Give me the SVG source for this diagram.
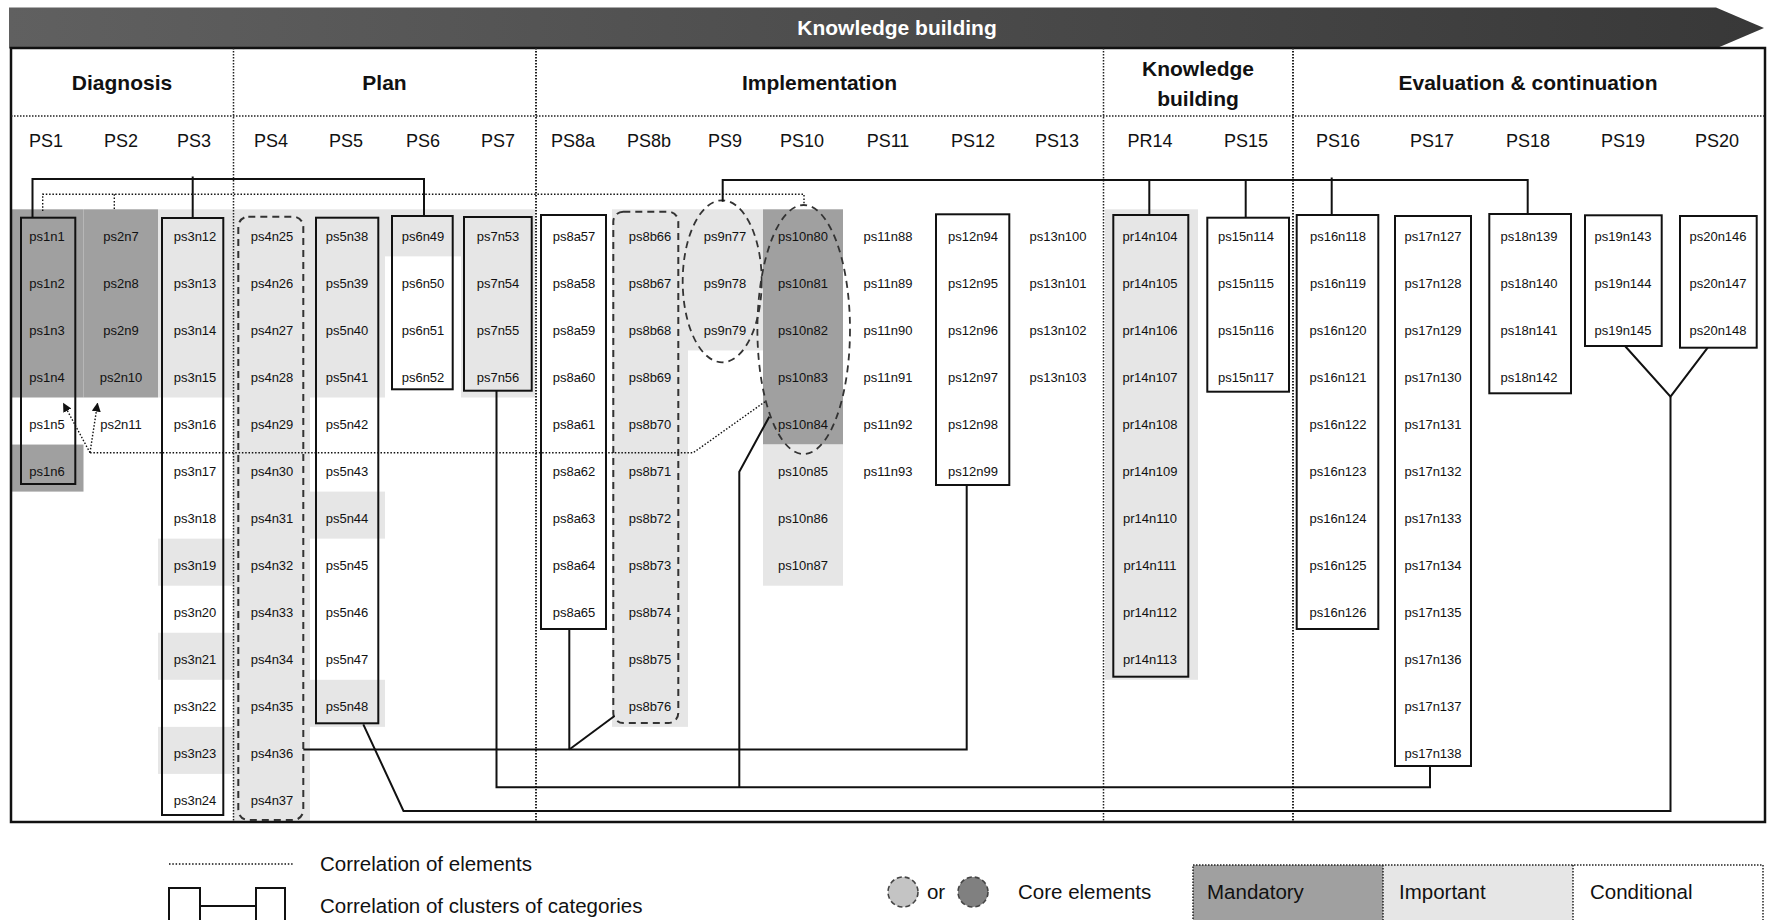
<svg xmlns="http://www.w3.org/2000/svg" width="1769" height="920" viewBox="0 0 1769 920">
  <defs>
    <linearGradient id="bannerGrad" x1="0" y1="0" x2="1" y2="0">
      <stop offset="0" stop-color="#606060"/>
      <stop offset="1" stop-color="#383838"/>
    </linearGradient>
    <marker id="arrowHead" viewBox="0 0 10 10" refX="9" refY="5" markerWidth="9" markerHeight="9" markerUnits="userSpaceOnUse" orient="auto">
      <path d="M0,0 L10,5 L0,10 z" fill="#111"/>
    </marker>
    <style>
      text { font-family: "Liberation Sans", Arial, sans-serif; fill: #111; }
      .el { font-size: 13px; text-anchor: middle; }
      .ph { font-size: 18px; text-anchor: middle; }
      .sec { font-size: 21px; font-weight: bold; text-anchor: middle; }
      .lg { font-size: 20.5px; }
      .m { fill: #a0a0a0; }
      .i { fill: #e6e6e6; }
      .box { fill: none; stroke: #111; stroke-width: 2; }
      .dbox { fill: none; stroke: #333; stroke-width: 2; stroke-dasharray: 7 5; }
      .sep { fill: none; stroke: #222; stroke-width: 1.5; stroke-dasharray: 1.5 1.5; }
      .dot { fill: none; stroke: #111; stroke-width: 1.4; stroke-dasharray: 1.5 1.8; }
      .con { fill: none; stroke: #111; stroke-width: 2; }
    </style>
  </defs>

  <!-- banner -->
  <g id="banner">
    <polygon points="9,7.5 1716,7.5 1764,28 1716,48.5 9,48.5" fill="url(#bannerGrad)"/>
    <text x="897" y="34.5" class="sec" style="fill:#fff">Knowledge building</text>
  </g>

  <!-- frame -->
  <rect x="11" y="48" width="1754" height="774" fill="#fff"/>

  <!-- cell backgrounds (mandatory / important) -->
  <g id="backgrounds">
    <rect class="m" x="11.5" y="209.3" width="72" height="188.2"/>
    <rect class="m" x="11.5" y="444.55" width="72" height="47.05"/>
    <rect class="m" x="83.5" y="209.3" width="74.5" height="188.2"/>
    <rect class="i" x="158" y="209.3" width="75" height="188.2"/>
    <rect class="i" x="158" y="538.65" width="75" height="47.05"/>
    <rect class="i" x="158" y="632.75" width="75" height="47.05"/>
    <rect class="i" x="158" y="726.85" width="75" height="47.05"/>
    <rect class="i" x="233" y="209.3" width="77" height="611.7"/>
    <rect class="i" x="310" y="209.3" width="75" height="188.2"/>
    <rect class="i" x="310" y="491.6" width="75" height="47.05"/>
    <rect class="i" x="310" y="679.8" width="75" height="47.05"/>
    <rect class="i" x="385" y="209.3" width="76" height="47.05"/>
    <rect class="i" x="461" y="209.3" width="74" height="188.2"/>
    <rect class="i" x="612" y="209.3" width="76" height="517.55"/>
    <rect class="i" x="688" y="209.3" width="75" height="141.15"/>
    <rect class="m" x="763" y="209.3" width="80" height="235.25"/>
    <rect class="i" x="763" y="444.55" width="80" height="141.15"/>
    <rect class="i" x="1105" y="209.3" width="93" height="470.5"/>
  </g>

  <!-- phase frame, header rule and section separators -->
  <g id="frame">
    <rect x="11" y="48" width="1754" height="774" class="box" style="stroke-width:2.5"/>
    <line x1="11" y1="116" x2="1765" y2="116" class="sep"/>
    <line x1="233.5" y1="48" x2="233.5" y2="822" class="sep"/>
    <line x1="536" y1="48" x2="536" y2="822" class="sep" style="stroke-width:2"/>
    <line x1="1103.5" y1="48" x2="1103.5" y2="822" class="sep"/>
    <line x1="1293" y1="48" x2="1293" y2="822" class="sep" style="stroke-width:2"/>
    <text x="122" y="90" class="sec">Diagnosis</text>
    <text x="384.5" y="90" class="sec">Plan</text>
    <text x="819.5" y="90" class="sec">Implementation</text>
    <text x="1198" y="76" class="sec">Knowledge</text>
    <text x="1198" y="106" class="sec">building</text>
    <text x="1528" y="90" class="sec">Evaluation &amp; continuation</text>
  </g>

  <!-- phase step headers -->
  <g id="step-headers" class="ph">
    <text x="46" y="147" class="ph">PS1</text>
    <text x="121" y="147" class="ph">PS2</text>
    <text x="194" y="147" class="ph">PS3</text>
    <text x="271" y="147" class="ph">PS4</text>
    <text x="346" y="147" class="ph">PS5</text>
    <text x="423" y="147" class="ph">PS6</text>
    <text x="498" y="147" class="ph">PS7</text>
    <text x="573" y="147" class="ph">PS8a</text>
    <text x="649" y="147" class="ph">PS8b</text>
    <text x="725" y="147" class="ph">PS9</text>
    <text x="802" y="147" class="ph">PS10</text>
    <text x="888" y="147" class="ph">PS11</text>
    <text x="973" y="147" class="ph">PS12</text>
    <text x="1057" y="147" class="ph">PS13</text>
    <text x="1150" y="147" class="ph">PR14</text>
    <text x="1246" y="147" class="ph">PS15</text>
    <text x="1338" y="147" class="ph">PS16</text>
    <text x="1432" y="147" class="ph">PS17</text>
    <text x="1528" y="147" class="ph">PS18</text>
    <text x="1623" y="147" class="ph">PS19</text>
    <text x="1717" y="147" class="ph">PS20</text>
  </g>

  <!-- element columns -->
  <g id="ps1">
    <rect class="box" x="21" y="217.7" width="54.3" height="266.3"/>
    <text class="el" x="47" y="240.5">ps1n1</text>
    <text class="el" x="47" y="287.6">ps1n2</text>
    <text class="el" x="47" y="334.6">ps1n3</text>
    <text class="el" x="47" y="381.7">ps1n4</text>
    <text class="el" x="47" y="428.7">ps1n5</text>
    <text class="el" x="47" y="475.8">ps1n6</text>
  </g>
  <g id="ps2">
    <text class="el" x="121" y="240.5">ps2n7</text>
    <text class="el" x="121" y="287.6">ps2n8</text>
    <text class="el" x="121" y="334.6">ps2n9</text>
    <text class="el" x="121" y="381.7">ps2n10</text>
    <text class="el" x="121" y="428.7">ps2n11</text>
  </g>
  <g id="ps3">
    <rect class="box" x="162" y="218" width="61.3" height="597"/>
    <text class="el" x="195" y="240.5">ps3n12</text>
    <text class="el" x="195" y="287.6">ps3n13</text>
    <text class="el" x="195" y="334.6">ps3n14</text>
    <text class="el" x="195" y="381.7">ps3n15</text>
    <text class="el" x="195" y="428.7">ps3n16</text>
    <text class="el" x="195" y="475.8">ps3n17</text>
    <text class="el" x="195" y="522.8">ps3n18</text>
    <text class="el" x="195" y="569.9">ps3n19</text>
    <text class="el" x="195" y="616.9">ps3n20</text>
    <text class="el" x="195" y="664">ps3n21</text>
    <text class="el" x="195" y="711">ps3n22</text>
    <text class="el" x="195" y="758.1">ps3n23</text>
    <text class="el" x="195" y="805.1">ps3n24</text>
  </g>
  <g id="ps4">
    <rect class="dbox" x="238.3" y="216.7" width="65" height="603.3" rx="10"/>
    <text class="el" x="272" y="240.5">ps4n25</text>
    <text class="el" x="272" y="287.6">ps4n26</text>
    <text class="el" x="272" y="334.6">ps4n27</text>
    <text class="el" x="272" y="381.7">ps4n28</text>
    <text class="el" x="272" y="428.7">ps4n29</text>
    <text class="el" x="272" y="475.8">ps4n30</text>
    <text class="el" x="272" y="522.8">ps4n31</text>
    <text class="el" x="272" y="569.9">ps4n32</text>
    <text class="el" x="272" y="616.9">ps4n33</text>
    <text class="el" x="272" y="664">ps4n34</text>
    <text class="el" x="272" y="711">ps4n35</text>
    <text class="el" x="272" y="758.1">ps4n36</text>
    <text class="el" x="272" y="805.1">ps4n37</text>
  </g>
  <g id="ps5">
    <rect class="box" x="316" y="217.7" width="62.3" height="505.6"/>
    <text class="el" x="347" y="240.5">ps5n38</text>
    <text class="el" x="347" y="287.6">ps5n39</text>
    <text class="el" x="347" y="334.6">ps5n40</text>
    <text class="el" x="347" y="381.7">ps5n41</text>
    <text class="el" x="347" y="428.7">ps5n42</text>
    <text class="el" x="347" y="475.8">ps5n43</text>
    <text class="el" x="347" y="522.8">ps5n44</text>
    <text class="el" x="347" y="569.9">ps5n45</text>
    <text class="el" x="347" y="616.9">ps5n46</text>
    <text class="el" x="347" y="664">ps5n47</text>
    <text class="el" x="347" y="711">ps5n48</text>
  </g>
  <g id="ps6">
    <rect class="box" x="392" y="216" width="60.7" height="173.3"/>
    <text class="el" x="423" y="240.5">ps6n49</text>
    <text class="el" x="423" y="287.6">ps6n50</text>
    <text class="el" x="423" y="334.6">ps6n51</text>
    <text class="el" x="423" y="381.7">ps6n52</text>
  </g>
  <g id="ps7">
    <rect class="box" x="464" y="217" width="67.7" height="173.7"/>
    <text class="el" x="498" y="240.5">ps7n53</text>
    <text class="el" x="498" y="287.6">ps7n54</text>
    <text class="el" x="498" y="334.6">ps7n55</text>
    <text class="el" x="498" y="381.7">ps7n56</text>
  </g>
  <g id="ps8a">
    <rect class="box" x="541" y="215" width="65" height="414"/>
    <text class="el" x="574" y="240.5">ps8a57</text>
    <text class="el" x="574" y="287.6">ps8a58</text>
    <text class="el" x="574" y="334.6">ps8a59</text>
    <text class="el" x="574" y="381.7">ps8a60</text>
    <text class="el" x="574" y="428.7">ps8a61</text>
    <text class="el" x="574" y="475.8">ps8a62</text>
    <text class="el" x="574" y="522.8">ps8a63</text>
    <text class="el" x="574" y="569.9">ps8a64</text>
    <text class="el" x="574" y="616.9">ps8a65</text>
  </g>
  <g id="ps8b">
    <rect class="dbox" x="613.3" y="211.7" width="65" height="511.3" rx="10"/>
    <text class="el" x="650" y="240.5">ps8b66</text>
    <text class="el" x="650" y="287.6">ps8b67</text>
    <text class="el" x="650" y="334.6">ps8b68</text>
    <text class="el" x="650" y="381.7">ps8b69</text>
    <text class="el" x="650" y="428.7">ps8b70</text>
    <text class="el" x="650" y="475.8">ps8b71</text>
    <text class="el" x="650" y="522.8">ps8b72</text>
    <text class="el" x="650" y="569.9">ps8b73</text>
    <text class="el" x="650" y="616.9">ps8b74</text>
    <text class="el" x="650" y="664">ps8b75</text>
    <text class="el" x="650" y="711">ps8b76</text>
  </g>
  <g id="ps9">
    <ellipse class="dbox" cx="722.2" cy="281.3" rx="39.5" ry="81" style="stroke-width:1.8"/>
    <text class="el" x="725" y="240.5">ps9n77</text>
    <text class="el" x="725" y="287.6">ps9n78</text>
    <text class="el" x="725" y="334.6">ps9n79</text>
  </g>
  <g id="ps10">
    <ellipse class="dbox" cx="803.7" cy="329.5" rx="46.3" ry="124.5" style="stroke-width:1.8"/>
    <text class="el" x="803" y="240.5">ps10n80</text>
    <text class="el" x="803" y="287.6">ps10n81</text>
    <text class="el" x="803" y="334.6">ps10n82</text>
    <text class="el" x="803" y="381.7">ps10n83</text>
    <text class="el" x="803" y="428.7">ps10n84</text>
    <text class="el" x="803" y="475.8">ps10n85</text>
    <text class="el" x="803" y="522.8">ps10n86</text>
    <text class="el" x="803" y="569.9">ps10n87</text>
  </g>
  <g id="ps11">
    <text class="el" x="888" y="240.5">ps11n88</text>
    <text class="el" x="888" y="287.6">ps11n89</text>
    <text class="el" x="888" y="334.6">ps11n90</text>
    <text class="el" x="888" y="381.7">ps11n91</text>
    <text class="el" x="888" y="428.7">ps11n92</text>
    <text class="el" x="888" y="475.8">ps11n93</text>
  </g>
  <g id="ps12">
    <rect class="box" x="936" y="214.3" width="73.3" height="270.7"/>
    <text class="el" x="973" y="240.5">ps12n94</text>
    <text class="el" x="973" y="287.6">ps12n95</text>
    <text class="el" x="973" y="334.6">ps12n96</text>
    <text class="el" x="973" y="381.7">ps12n97</text>
    <text class="el" x="973" y="428.7">ps12n98</text>
    <text class="el" x="973" y="475.8">ps12n99</text>
  </g>
  <g id="ps13">
    <text class="el" x="1058" y="240.5">ps13n100</text>
    <text class="el" x="1058" y="287.6">ps13n101</text>
    <text class="el" x="1058" y="334.6">ps13n102</text>
    <text class="el" x="1058" y="381.7">ps13n103</text>
  </g>
  <g id="pr14">
    <rect class="box" x="1113.3" y="215" width="75" height="461.7"/>
    <text class="el" x="1150" y="240.5">pr14n104</text>
    <text class="el" x="1150" y="287.6">pr14n105</text>
    <text class="el" x="1150" y="334.6">pr14n106</text>
    <text class="el" x="1150" y="381.7">pr14n107</text>
    <text class="el" x="1150" y="428.7">pr14n108</text>
    <text class="el" x="1150" y="475.8">pr14n109</text>
    <text class="el" x="1150" y="522.8">pr14n110</text>
    <text class="el" x="1150" y="569.9">pr14n111</text>
    <text class="el" x="1150" y="616.9">pr14n112</text>
    <text class="el" x="1150" y="664">pr14n113</text>
  </g>
  <g id="ps15">
    <rect class="box" x="1207.3" y="217.7" width="81.7" height="174"/>
    <text class="el" x="1246" y="240.5">ps15n114</text>
    <text class="el" x="1246" y="287.6">ps15n115</text>
    <text class="el" x="1246" y="334.6">ps15n116</text>
    <text class="el" x="1246" y="381.7">ps15n117</text>
  </g>
  <g id="ps16">
    <rect class="box" x="1296.7" y="215" width="81.6" height="414"/>
    <text class="el" x="1338" y="240.5">ps16n118</text>
    <text class="el" x="1338" y="287.6">ps16n119</text>
    <text class="el" x="1338" y="334.6">ps16n120</text>
    <text class="el" x="1338" y="381.7">ps16n121</text>
    <text class="el" x="1338" y="428.7">ps16n122</text>
    <text class="el" x="1338" y="475.8">ps16n123</text>
    <text class="el" x="1338" y="522.8">ps16n124</text>
    <text class="el" x="1338" y="569.9">ps16n125</text>
    <text class="el" x="1338" y="616.9">ps16n126</text>
  </g>
  <g id="ps17">
    <rect class="box" x="1395" y="216" width="76" height="550"/>
    <text class="el" x="1433" y="240.5">ps17n127</text>
    <text class="el" x="1433" y="287.6">ps17n128</text>
    <text class="el" x="1433" y="334.6">ps17n129</text>
    <text class="el" x="1433" y="381.7">ps17n130</text>
    <text class="el" x="1433" y="428.7">ps17n131</text>
    <text class="el" x="1433" y="475.8">ps17n132</text>
    <text class="el" x="1433" y="522.8">ps17n133</text>
    <text class="el" x="1433" y="569.9">ps17n134</text>
    <text class="el" x="1433" y="616.9">ps17n135</text>
    <text class="el" x="1433" y="664">ps17n136</text>
    <text class="el" x="1433" y="711">ps17n137</text>
    <text class="el" x="1433" y="758.1">ps17n138</text>
  </g>
  <g id="ps18">
    <rect class="box" x="1489.3" y="214" width="81.7" height="179.3"/>
    <text class="el" x="1529" y="240.5">ps18n139</text>
    <text class="el" x="1529" y="287.6">ps18n140</text>
    <text class="el" x="1529" y="334.6">ps18n141</text>
    <text class="el" x="1529" y="381.7">ps18n142</text>
  </g>
  <g id="ps19">
    <rect class="box" x="1585" y="215.3" width="76.7" height="130.7"/>
    <text class="el" x="1623" y="240.5">ps19n143</text>
    <text class="el" x="1623" y="287.6">ps19n144</text>
    <text class="el" x="1623" y="334.6">ps19n145</text>
  </g>
  <g id="ps20">
    <rect class="box" x="1680" y="216" width="76.7" height="131.7"/>
    <text class="el" x="1718" y="240.5">ps20n146</text>
    <text class="el" x="1718" y="287.6">ps20n147</text>
    <text class="el" x="1718" y="334.6">ps20n148</text>
  </g>

  <!-- connectors -->
  <g id="connectors">
    <!-- clusters of categories -->
    <path class="con" d="M32.5,217.7 V179 H424 V216"/>
    <path class="con" d="M192.7,176.5 V218"/>
    <path class="con" d="M722.7,201.7 V180 H1527.7 V214"/>
    <path class="con" d="M1149.3,180 V215"/>
    <path class="con" d="M1245.7,180 V217.7"/>
    <path class="con" d="M1331.7,177.5 V215"/>
    <path class="con" d="M303.3,749.5 H966.7 V485"/>
    <path class="con" d="M569.3,629 V749.5"/>
    <path class="con" d="M614.5,716 L569.3,749.5"/>
    <path class="con" d="M496.5,390.7 V787.3 H1430 V766"/>
    <path class="con" d="M769.3,416.7 L739.3,471.7 V787.3"/>
    <path class="con" d="M363.3,724.3 L403.5,811 H1670.5 V396.7"/>
    <path class="con" d="M1625,346 L1670.5,396.7 L1707.7,347.7"/>
    <!-- correlations of elements -->
    <path class="dot" d="M42.7,211 V194.3 H804 V205"/>
    <path class="dot" d="M114.3,194.3 V210"/>
    <path class="dot" d="M765,401.7 L693.3,452.7 H90"/>
    <path class="dot" d="M90,452.7 L63.5,403.5" marker-end="url(#arrowHead)"/>
    <path class="dot" d="M90,452.7 L97.5,403.5" marker-end="url(#arrowHead)"/>
  </g>

  <!-- legend -->
  <g id="legend">
    <line x1="169" y1="864" x2="293" y2="864" class="dot"/>
    <text x="320" y="871" class="lg">Correlation of elements</text>
    <rect x="169" y="888" width="31" height="40" class="box"/>
    <rect x="256" y="888" width="29" height="40" class="box"/>
    <line x1="200" y1="906" x2="256" y2="906" class="con"/>
    <text x="320" y="913" class="lg">Correlation of clusters of categories</text>

    <ellipse cx="903" cy="892" rx="15" ry="15" fill="#c4c4c4" stroke="#444" stroke-width="1.6" stroke-dasharray="5 3"/>
    <text x="936" y="899" class="lg" text-anchor="middle">or</text>
    <ellipse cx="973" cy="892" rx="15" ry="15" fill="#808080" stroke="#444" stroke-width="1.6" stroke-dasharray="5 3"/>
    <text x="1018" y="899" class="lg">Core elements</text>

    <rect x="1193" y="865" width="190" height="60" class="m"/>
    <rect x="1383" y="865" width="190" height="60" class="i"/>
    <rect x="1573" y="865" width="190" height="60" fill="#fff"/>
    <path d="M1193,925 V865 H1763 V925 M1383,865 V925 M1573,865 V925" class="sep"/>
    <text x="1207" y="899" class="lg">Mandatory</text>
    <text x="1399" y="899" class="lg">Important</text>
    <text x="1590" y="899" class="lg">Conditional</text>
  </g>
</svg>
